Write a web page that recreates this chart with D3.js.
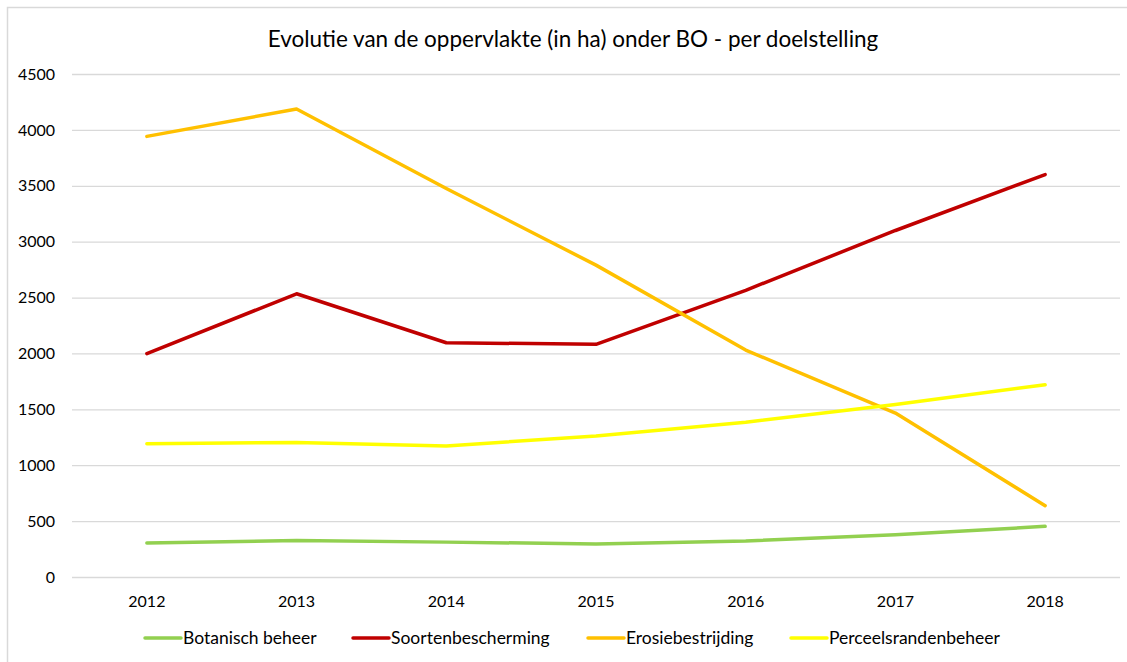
<!DOCTYPE html>
<html>
<head>
<meta charset="utf-8">
<script src="https://cdn.jsdelivr.net/npm/d3@7"></script>
<style>
  body { margin: 0; background: #fff; }
  text { font-family: Lato, "Open Sans", sans-serif; fill: #000; }
</style>
</head>
<body>
<svg id="chart" width="1127" height="662"></svg>
<script>
const years = ['2012', '2013', '2014', '2015', '2016', '2017', '2018']
const yTicks = [0, 500, 1000, 1500, 2000, 2500, 3000, 3500, 4000, 4500]

const botanisch = [304, 327, 312, 296, 322, 378, 453]
const soorten = [1998, 2534, 2096, 2082, 2565, 3100, 3600]
const erosie = [3942, 4187, 3475, 2790, 2030, 1467, 638]
const perceels = [1192, 1204, 1173, 1262, 1385, 1543, 1720]

const series = [
	{name: 'Botanisch beheer', values: botanisch, color: '#92D050'},
	{name: 'Soortenbescherming', values: soorten, color: '#C00000'},
	{name: 'Erosiebestrijding', values: erosie, color: '#FFC000'},
	{name: 'Perceelsrandenbeheer', values: perceels, color: '#FFFF00'}
]

const svg = d3.select('#chart')

// chart frame (only left and top edges are visible in the crop)
svg.append('path')
	.attr('d', 'M7.5,662V7.5H1127')
	.attr('fill', 'none')
	.attr('stroke', '#d9d9d9')
	.attr('stroke-width', 1.5)

const plotLeft = 72, plotRight = 1120, plotTop = 74, plotBottom = 577

const x = d3.scaleBand().domain(years).range([plotLeft, plotRight])
const y = d3.scaleLinear().domain([0, 4500]).range([plotBottom, plotTop])

svg.append('text')
	.attr('x', 573).attr('y', 47)
	.attr('text-anchor', 'middle')
	.attr('font-size', 22.5)
	.text('Evolutie van de oppervlakte (in ha) onder BO - per doelstelling')

// gridlines + y labels
const yAxis = svg.append('g')
	.attr('transform', 'translate(' + plotLeft + ',0)')
	.call(d3.axisLeft(y).tickValues(yTicks).tickFormat(d3.format('d'))
		.tickSize(-(plotRight - plotLeft)).tickPadding(17))

yAxis.select('.domain').remove()
yAxis.selectAll('line').attr('stroke', '#d9d9d9').attr('stroke-width', 1.3)
yAxis.selectAll('text').attr('font-size', 16).attr('fill', '#000')
	.style('font-family', 'Lato, "Open Sans", sans-serif')

const xAxis = svg.append('g')
	.attr('transform', 'translate(0,' + plotBottom + ')')
	.call(d3.axisBottom(x).tickSize(0).tickPadding(19))

xAxis.select('.domain').remove()
xAxis.selectAll('text').attr('font-size', 16).attr('fill', '#000')
	.style('font-family', 'Lato, "Open Sans", sans-serif')

const line = d3.line()
	.x((d, i) => x(years[i]) + x.bandwidth() / 2)
	.y(d => y(d))

svg.selectAll('.series')
	.data(series)
	.enter()
	.append('path')
	.attr('class', 'series')
	.attr('d', d => line(d.values))
	.attr('fill', 'none')
	.attr('stroke', d => d.color)
	.attr('stroke-width', 3.5)
	.attr('stroke-linejoin', 'round')
	.attr('stroke-linecap', 'round')

// legend
const legendX = [145, 353, 588, 791]

const legend = svg.selectAll('.legend')
	.data(series)
	.enter()
	.append('g')
	.attr('class', 'legend')
	.attr('transform', (d, i) => 'translate(' + legendX[i] + ',638)')

legend.append('line')
	.attr('x1', 0).attr('x2', 36)
	.attr('stroke', d => d.color)
	.attr('stroke-width', 3.5)
	.attr('stroke-linecap', 'round')

legend.append('text')
	.attr('x', 38).attr('y', 6)
	.attr('font-size', 17.5)
	.text(d => d.name)
</script>
</body>
</html>
